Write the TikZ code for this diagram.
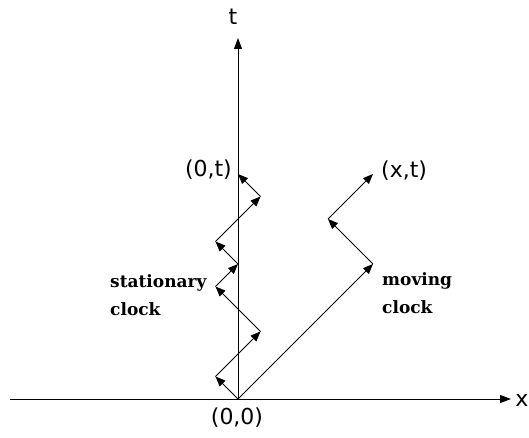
\documentclass[tikz,border=0pt]{standalone}
\usepackage{fontspec}
\setmainfont{DejaVu Sans}
\newfontfamily\clockfont{DejaVu Serif}
\usepackage{tikz}
\usetikzlibrary{arrows.meta, positioning}
\definecolor{lineblack}{RGB}{0,0,0}
\tikzset{
  axis/.style={-{Triangle[length=11pt,width=8pt]}, line width=0.9pt, color=lineblack},
  ray/.style={-{Triangle[length=10pt,width=8pt]}, line width=0.9pt, color=lineblack},
  coordlabel/.style={inner sep=0pt, font=\fontsize{22}{26}\selectfont},
  clocklabel/.style={inner sep=0pt, align=left,
    font=\clockfont\bfseries\fontsize{17}{28}\selectfont},
}

\begin{document}
\begin{tikzpicture}[x=1pt, y=1pt]
  \useasboundingbox (-238,-38) rectangle (291,399);
  % axes
  \coordinate (o) at (0,0);
  \coordinate (xl) at (-228,0);
  \coordinate (xr) at (273,0);
  \coordinate (tt) at (0,361);
  \draw[axis] (xl) -- (xr);
  \draw[axis] (o) -- (tt);
  \node[coordlabel] (tlab) at (-5,382) {t};
  \node[coordlabel] (xlab) at (284,-1) {x};
  % stationary clock
  \coordinate (s1) at (-22.5,22.5);
  \coordinate (s2) at (22.5,67.5);
  \coordinate (s3) at (-22.5,112.5);
  \coordinate (s4) at (0,135);
  \coordinate (s5) at (-22.5,157.5);
  \coordinate (s6) at (22.5,202.5);
  \coordinate (s7) at (0,225);
  \draw[ray] (o) -- (s1);
  \draw[ray] (s1) -- (s2);
  \draw[ray] (s2) -- (s3);
  \draw[ray] (s3) -- (s4);
  \draw[ray] (s4) -- (s5);
  \draw[ray] (s5) -- (s6);
  \draw[ray] (s6) -- (s7);
  % moving clock
  \coordinate (m1) at (135,135);
  \coordinate (m2) at (90,180);
  \coordinate (m3) at (135,225);
  \draw[ray] (o) -- (m1);
  \draw[ray] (m1) -- (m2);
  \draw[ray] (m2) -- (m3);
  % labels
  \node[coordlabel] (olab) at (-1,-19) {(0,0)};
  \node[coordlabel, left=6pt of s7, yshift=4pt] (s7lab) {(0,t)};
  \node[coordlabel, right=8pt of m3, yshift=3pt] (m3lab) {(x,t)};
  \node[clocklabel, anchor=west] (slab) at (-128,104) {stationary\\clock};
  \node[clocklabel, anchor=west] (mlab) at (144,106) {moving\\clock};
\end{tikzpicture}
\end{document}
